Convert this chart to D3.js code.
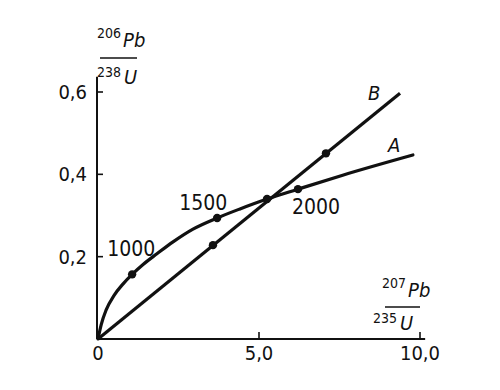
<!DOCTYPE html>
<html>
<head>
<meta charset="utf-8">
<script src="https://cdn.jsdelivr.net/npm/d3@7"></script>
<style>
  body { margin: 0; background: #fff; }
  text { font-family: "Liberation Sans Narrow", "DejaVu Sans Condensed", "Arial Narrow", sans-serif; fill: #111; }
</style>
</head>
<body>
<svg id="chart" width="500" height="390"></svg>
<script>
// Concordia curve A: [207Pb/235U, 206Pb/238U]
const concordiaX = [0, 0.10, 0.25, 0.50, 0.78, 1.06, 1.40, 1.83, 2.33, 2.95, 3.70, 4.41, 5.25, 6.21, 7.60, 9.78];
const concordiaY = [0, 0.035, 0.070, 0.106, 0.134, 0.157, 0.181, 0.207, 0.236, 0.267, 0.294, 0.316, 0.340, 0.364, 0.398, 0.447];
// Age markers on A (Ma)
const ageLabels = ["1000", "1500", "2000"];
const ageX = [1.06, 3.70, 6.21];
const ageY = [0.157, 0.294, 0.364];
// Line B (discordia)
const lineBX = [0, 9.38];
const lineBY = [0, 0.597];
const pointsBX = [3.57, 5.25, 7.08];
const pointsBY = [0.228, 0.340, 0.451];
// Axes
const xTicks = [0, 5, 10];
const xTickLabels = ["0", "5,0", "10,0"];
const yTicks = [0.2, 0.4, 0.6];
const yTickLabels = ["0,2", "0,4", "0,6"];
const seriesNames = ["A", "B"];

const svg = d3.select("#chart");
const x = d3.scaleLinear().domain([0, 10]).range([98, 420]);
const y = d3.scaleLinear().domain([0, 0.6]).range([339, 92]);

// Axes lines
svg.append("line").attr("x1", x(0)).attr("x2", x(10.16)).attr("y1", y(0)).attr("y2", y(0))
  .attr("stroke", "#111").attr("stroke-width", 2);
svg.append("line").attr("x1", x(0) - 1).attr("x2", x(0) - 1).attr("y1", y(0)).attr("y2", y(0.637))
  .attr("stroke", "#111").attr("stroke-width", 2);

// y ticks
yTicks.forEach((t, i) => {
  svg.append("line").attr("x1", x(0) - 1).attr("x2", x(0) + 5).attr("y1", y(t)).attr("y2", y(t))
    .attr("stroke", "#111").attr("stroke-width", 1.6);
  svg.append("text").attr("x", x(0) - 11).attr("y", y(t) + 7).attr("text-anchor", "end")
    .attr("font-size", 20).text(yTickLabels[i]);
});
// x ticks
xTicks.forEach((t, i) => {
  if (t > 0) {
    svg.append("line").attr("x1", x(t)).attr("x2", x(t)).attr("y1", y(0)).attr("y2", y(0) - 7)
      .attr("stroke", "#111").attr("stroke-width", 1.6);
  }
  svg.append("text").attr("x", x(t)).attr("y", y(0) + 21).attr("text-anchor", "middle")
    .attr("font-size", 20).text(xTickLabels[i]);
});

// Curve A
const aPts = concordiaX.map((d, i) => [d, concordiaY[i]]);
svg.append("path").datum(aPts)
  .attr("d", d3.line().x(d => x(d[0])).y(d => y(d[1])).curve(d3.curveMonotoneX))
  .attr("fill", "none").attr("stroke", "#111").attr("stroke-width", 3.2).attr("stroke-linecap", "round");

// Line B
const bPts = lineBX.map((d, i) => [d, lineBY[i]]);
svg.append("path").datum(bPts)
  .attr("d", d3.line().x(d => x(d[0])).y(d => y(d[1])))
  .attr("fill", "none").attr("stroke", "#111").attr("stroke-width", 3.2);

// dots
ageX.forEach((d, i) => {
  svg.append("circle").attr("cx", x(d)).attr("cy", y(ageY[i])).attr("r", 4.2).attr("fill", "#111");
});
pointsBX.forEach((d, i) => {
  svg.append("circle").attr("cx", x(d)).attr("cy", y(pointsBY[i])).attr("r", 4.2).attr("fill", "#111");
});

// Age labels
const ageOff = [[-25, -18], [-38, -8], [-6, 25]];
ageLabels.forEach((s, i) => {
  svg.append("text").attr("x", x(ageX[i]) + ageOff[i][0]).attr("y", y(ageY[i]) + ageOff[i][1])
    .attr("font-size", 21).text(s);
});

// Series labels
const aEnd = aPts[aPts.length - 1];
svg.append("text").attr("x", x(aEnd[0]) - 25).attr("y", y(aEnd[1]) - 3)
  .attr("font-size", 20).attr("font-style", "italic").text(seriesNames[0]);
svg.append("text").attr("x", x(lineBX[1]) - 32).attr("y", y(lineBY[1]) + 7)
  .attr("font-size", 20).attr("font-style", "italic").text(seriesNames[1]);

// Fraction label helper
function fraction(px, topSup, topEl, botSup, botEl, lineX1, lineX2, lineY) {
  const g = svg.append("g");
  const t1 = g.append("text").attr("x", px.tx).attr("y", px.ty);
  t1.append("tspan").attr("font-size", 14).text(topSup);
  t1.append("tspan").attr("font-size", 20).attr("font-style", "italic").attr("dx", 2).attr("dy", 9).text(topEl);
  g.append("line").attr("x1", lineX1).attr("x2", lineX2).attr("y1", lineY).attr("y2", lineY)
    .attr("stroke", "#111").attr("stroke-width", 1.5);
  const t2 = g.append("text").attr("x", px.bx).attr("y", px.by);
  t2.append("tspan").attr("font-size", 14).text(botSup);
  t2.append("tspan").attr("font-size", 20).attr("font-style", "italic").attr("dx", 3).attr("dy", 7).text(botEl);
}
fraction({tx: 97, ty: 38, bx: 97, by: 77}, "206", "Pb", "238", "U", 100, 137, 58);
fraction({tx: 382, ty: 288, bx: 373, by: 323}, "207", "Pb", "235", "U", 385, 420, 307);
</script>
</body>
</html>
